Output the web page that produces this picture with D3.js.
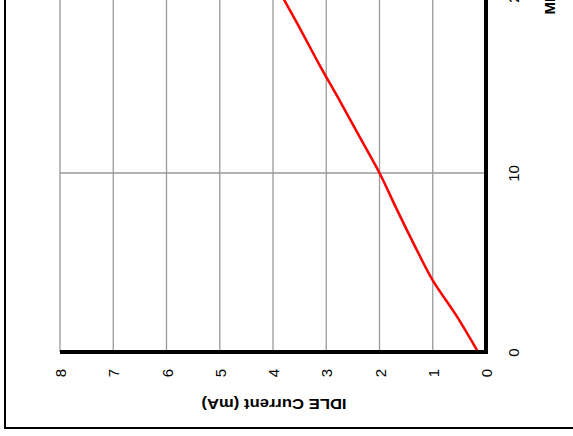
<!DOCTYPE html>
<html>
<head>
<meta charset="utf-8">
<script src="https://cdn.jsdelivr.net/npm/d3@7"></script>
<style>
  html, body { margin: 0; padding: 0; background: #fff; }
  svg { display: block; }
  text { font-family: "Liberation Sans", Arial, sans-serif; }
</style>
</head>
<body>
<svg id="chart" width="573" height="436"></svg>
<script>
// Data (chart is shown rotated 90° counter-clockwise)
const freqMHz   = [0, 2, 4, 6, 8, 10, 12, 14, 16, 18, 20, 22];
const idleMA    = [0.15, 0.55, 1.0, 1.35, 1.68, 2.0, 2.37, 2.74, 3.12, 3.48, 3.85, 4.2];
const currentTicks = [0, 1, 2, 3, 4, 5, 6, 7, 8];
const freqTicks    = [0, 10, 20];
const currentTitle = "IDLE Current (mA)";
const freqTitle    = "MHz";

const svg = d3.select("#chart");

// Scales: current runs right-to-left along the bottom, frequency runs bottom-to-top on the right
const x = d3.scaleLinear().domain([0, 8]).range([486, 60]);
const y = d3.scaleLinear().domain([0, 20]).range([352, -6]);

// Outer frame
svg.append("path")
  .attr("d", "M5,-5 V428 H590")
  .attr("fill", "none")
  .attr("stroke", "#000")
  .attr("stroke-width", 2);

// Grid lines
const grid = svg.append("g");
grid.selectAll("line.v").data(currentTicks.filter(d => d !== 0)).join("line")
  .attr("class", "v")
  .attr("x1", d => x(d)).attr("x2", d => x(d))
  .attr("y1", y(0)).attr("y2", -10)
  .attr("stroke", "#9a9a9a").attr("stroke-width", 1.3);
grid.selectAll("line.h").data(freqTicks.filter(d => d !== 0)).join("line")
  .attr("class", "h")
  .attr("x1", x(8)).attr("x2", x(0))
  .attr("y1", d => y(d)).attr("y2", d => y(d))
  .attr("stroke", "#9a9a9a").attr("stroke-width", 1.3);

// Data line
const line = d3.line()
  .x(d => x(d[1]))
  .y(d => y(d[0]))
  .curve(d3.curveMonotoneY);
svg.append("path")
  .datum(freqMHz.map((f, i) => [f, idleMA[i]]))
  .attr("d", line)
  .attr("fill", "none")
  .attr("stroke", "#ff0000")
  .attr("stroke-width", 2.5);

// Current axis (bottom)
const xAxis = svg.append("g")
  .attr("transform", `translate(0,${y(0)})`)
  .call(d3.axisBottom(x).tickValues(currentTicks).tickSize(0).tickFormat(d3.format("d")));
xAxis.select(".domain").attr("stroke", "#000").attr("stroke-width", 4)
  .attr("d", `M${x(8)},0H${x(0) + 2}`);
xAxis.selectAll(".tick text")
  .attr("x", 0).attr("y", 0).attr("dy", null)
  .attr("transform", "translate(0,21) rotate(-90)")
  .attr("text-anchor", "middle")
  .attr("dominant-baseline", "central")
  .style("font-size", "15px").attr("fill", "#000")
  .style("font-family", "'Liberation Sans', Arial, sans-serif");

// Frequency axis (right)
const yAxis = svg.append("g")
  .attr("transform", `translate(${x(0)},0)`)
  .call(d3.axisRight(y).tickValues(freqTicks).tickSize(0).tickFormat(d3.format("d")));
yAxis.select(".domain").attr("stroke", "#000").attr("stroke-width", 4)
  .attr("d", `M0,${y(0) + 2}V-10`);
yAxis.selectAll(".tick text")
  .attr("x", 0).attr("y", 0).attr("dy", null)
  .attr("transform", "translate(27,0) rotate(-90)")
  .attr("text-anchor", "middle")
  .attr("dominant-baseline", "central")
  .style("font-size", "15px").attr("fill", "#000")
  .style("font-family", "'Liberation Sans', Arial, sans-serif");

// Axis titles
svg.append("text")
  .attr("transform", `translate(${(x(0) + x(8)) / 2 + 1},404) rotate(180)`)
  .attr("text-anchor", "middle")
  .attr("dominant-baseline", "central")
  .attr("textLength", 145).attr("lengthAdjust", "spacingAndGlyphs")
  .style("font-size", "14.5px").attr("font-weight", "bold")
  .text(currentTitle);
svg.append("text")
  .attr("transform", "translate(549,14.5) rotate(-90)")
  .attr("text-anchor", "start")
  .attr("dominant-baseline", "central")
  .style("font-size", "15px").attr("font-weight", "bold")
  .text(freqTitle);
</script>
</body>
</html>
